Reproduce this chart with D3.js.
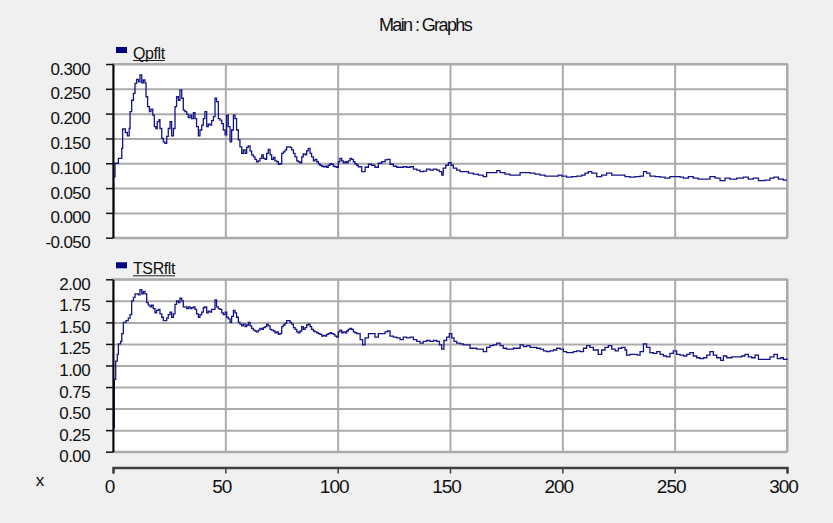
<!DOCTYPE html>
<html>
<head>
<meta charset="utf-8">
<script src="https://cdn.jsdelivr.net/npm/d3@7"></script>
<style>
  html, body { margin: 0; padding: 0; background: #f0f0f0; }
  svg { display: block; font-family: "Liberation Sans", Arial, sans-serif; }
</style>
</head>
<body>
<svg id="chart" width="833" height="523"></svg>
<script>
// values (time, value)
const qpfltTime = [0,0.3,0.9,2.4,3.9,4.3,5.5,6.4,7.2,7.6,8.3,9.1,9.8,10.5,11.3,12.0,12.8,13.5,14.2,14.7,
  15.4,16.2,16.9,17.7,18.4,19.1,19.7,20.5,20.9,21.7,22.4,23.1,23.9,24.6,25.4,26.1,26.9,27.6,28.3,29.1,
  29.8,30.6,31.3,32.0,32.8,33.5,34.3,35.0,35.8,36.5,37.2,38.0,38.7,39.5,40.2,40.9,41.7,42.4,43.2,43.9,
  44.7,45.4,46.1,46.9,47.6,48.4,49.1,49.9,50.6,51.3,52.1,52.8,53.6,54.3,55.0,55.8,56.5,57.3,58.0,58.8,
  59.5,60.2,61.0,61.7,62.5,63.2,63.9,64.7,65.4,66.2,66.9,67.7,68.4,69.1,69.9,70.6,71.4,72.1,72.9,73.6,
  74.3,75.1,75.8,76.6,77.3,78.0,78.8,79.5,80.3,81.0,81.8,82.5,83.2,84.0,84.7,85.5,86.2,86.9,87.7,88.4,
  89.2,89.9,90.7,91.4,92.1,92.9,93.6,94.4,95.1,95.8,96.6,97.3,98.1,98.8,99.6,100.3,101.0,101.8,102.5,103.3,
  104.0,104.7,105.5,106.2,107.0,107.7,108.5,109.2,
  110.7,112.2,113.7,115.1,116.6,118.1,119.6,121.1,122.1,123.3,124.8,126.3,127.8,129.2,130.7,132.2,133.7,135.2,136.7,138.1,
  139.6,141.1,142.6,144.1,145.3,146.3,147.0,148.1,149.3,150.5,151.5,153.0,154.5,156.7,158.2,160.4,162.6,164.8,166.3,168.6,
  170.8,172.3,174.5,176.7,179.0,181.2,183.4,185.6,187.8,190.1,192.3,194.5,196.7,198.2,199.7,201.9,204.2,206.4,208.6,210.1,
  211.6,213.1,215.3,217.5,219.7,222.0,224.2,226.4,227.9,230.1,232.4,234.6,236.1,237.5,239.0,241.3,243.5,245.7,247.9,250.2,
  252.4,253.9,256.1,258.3,260.5,262.8,265.7,268.0,270.2,272.4,274.6,277.6,280.6,282.8,285.0,287.3,290.2,292.4,294.2,296.2,
  298.4,300];
const qpfltValue = [0.0,0.073,0.100,0.110,0.130,0.169,0.162,0.155,0.170,0.204,0.227,0.241,0.261,0.269,0.264,0.278,0.262,0.268,0.262,0.234,
  0.214,0.204,0.209,0.197,0.174,0.170,0.184,0.188,0.170,0.150,0.143,0.140,0.154,0.170,0.184,0.155,0.170,0.214,0.234,0.227,
  0.248,0.231,0.207,0.204,0.199,0.192,0.197,0.190,0.202,0.190,0.174,0.155,0.167,0.177,0.190,0.204,0.174,0.179,0.177,0.186,
  0.194,0.231,0.224,0.190,0.187,0.180,0.167,0.157,0.197,0.174,0.143,0.167,0.197,0.190,0.167,0.147,0.133,0.120,0.127,0.120,
  0.132,0.135,0.125,0.117,0.113,0.108,0.103,0.105,0.110,0.117,0.110,0.108,0.120,0.128,0.117,0.108,0.112,0.105,0.103,0.098,
  0.099,0.120,0.123,0.127,0.133,0.133,0.132,0.127,0.120,0.113,0.105,0.103,0.101,0.113,0.119,0.117,0.125,0.130,0.120,0.113,
  0.105,0.108,0.103,0.099,0.096,0.094,0.093,0.094,0.092,0.096,0.099,0.098,0.094,0.093,0.092,0.103,0.110,0.105,0.101,0.103,
  0.101,0.105,0.110,0.108,0.103,0.099,0.096,0.093,
  0.083,0.092,0.098,0.096,0.092,0.100,0.103,0.107,0.108,0.098,0.094,0.092,0.092,0.093,0.092,0.093,0.088,0.086,0.083,0.084,
  0.088,0.086,0.088,0.086,0.083,0.076,0.090,0.096,0.101,0.096,0.090,0.086,0.083,0.083,0.080,0.078,0.076,0.073,0.081,0.081,
  0.085,0.081,0.078,0.076,0.076,0.081,0.081,0.080,0.078,0.076,0.074,0.074,0.074,0.076,0.074,0.072,0.073,0.074,0.076,0.080,
  0.083,0.080,0.073,0.076,0.080,0.076,0.076,0.076,0.073,0.072,0.073,0.074,0.083,0.080,0.074,0.073,0.072,0.070,0.073,0.073,
  0.072,0.070,0.073,0.070,0.068,0.068,0.073,0.070,0.065,0.070,0.068,0.070,0.072,0.068,0.070,0.065,0.066,0.070,0.072,0.068,
  0.066,0.066];

const tsrfltTime = [0,0.6,1.2,1.9,2.4,3.4,3.9,4.6,5.8,6.8,7.6,8.3,9.1,9.8,10.5,11.3,12.0,12.8,13.5,14.2,
  15.0,15.7,16.5,17.2,17.9,18.7,19.4,20.2,20.9,21.7,22.4,23.1,23.9,24.6,25.4,26.1,26.9,27.6,28.3,29.1,
  29.8,30.6,31.3,32.0,32.8,33.5,34.3,35.0,35.8,36.5,37.2,38.0,38.7,39.5,40.2,40.9,41.7,42.4,43.2,43.9,
  44.7,45.4,46.1,46.9,47.6,48.4,49.1,49.9,50.6,51.3,52.1,52.8,53.6,54.3,55.0,55.8,56.5,57.3,58.0,58.8,
  59.5,60.3,61.0,61.7,62.5,63.2,63.9,64.7,65.4,66.2,66.9,67.7,68.4,69.1,69.9,70.6,71.4,72.1,72.9,73.6,
  74.3,75.1,75.8,76.6,77.3,78.0,78.8,79.5,80.3,81.0,81.8,82.5,83.2,84.0,84.7,85.5,86.2,86.9,87.7,88.4,
  89.2,89.9,90.7,91.4,92.1,92.9,93.6,94.4,95.1,95.8,96.6,97.3,98.1,98.8,99.6,100.3,101.0,101.8,102.5,103.3,
  104.0,104.7,105.5,106.2,107.0,107.7,108.5,
  110.0,111.1,112.2,113.7,115.1,116.6,118.1,119.6,121.1,122.1,123.3,124.8,126.3,127.8,129.2,130.7,132.2,133.7,135.2,136.7,
  138.1,139.6,141.1,142.6,144.1,145.3,146.3,147.3,148.5,149.7,150.8,151.8,153.0,154.5,155.9,157.4,158.9,160.4,161.9,163.4,
  164.8,166.3,167.8,169.3,170.8,172.3,173.7,175.2,176.7,178.2,179.7,181.2,182.7,184.1,185.6,187.1,188.6,190.1,191.6,193.0,
  194.5,196.0,197.5,199.0,200.5,201.9,203.4,204.9,206.4,207.9,209.4,210.8,212.3,213.8,216.0,217.5,219.0,220.5,222.0,223.5,
  224.9,226.4,227.9,228.6,230.1,231.6,233.4,234.6,236.1,237.5,239.0,240.5,242.0,243.5,245.0,246.5,247.9,249.4,250.9,252.4,
  253.9,255.4,256.8,258.3,259.8,261.3,262.8,264.3,265.7,267.2,268.7,270.5,271.7,273.2,275.4,277.6,279.8,281.3,282.8,284.3,
  285.8,287.3,289.5,291.0,292.4,294.2,295.7,297.2,298.4,300];
const tsrfltValue = [0.28,0.84,1.05,1.13,1.25,1.28,1.37,1.50,1.52,1.55,1.59,1.75,1.79,1.83,1.83,1.82,1.88,1.83,1.86,1.83,
  1.73,1.70,1.68,1.70,1.66,1.61,1.64,1.65,1.60,1.56,1.52,1.52,1.55,1.59,1.62,1.56,1.60,1.71,1.75,1.73,
  1.78,1.75,1.68,1.68,1.66,1.68,1.66,1.67,1.68,1.65,1.60,1.56,1.59,1.62,1.67,1.68,1.61,1.63,1.62,1.65,
  1.65,1.76,1.68,1.66,1.65,1.61,1.59,1.62,1.56,1.54,1.50,1.57,1.64,1.61,1.56,1.50,1.48,1.46,1.48,1.45,
  1.47,1.50,1.46,1.43,1.41,1.40,1.39,1.41,1.43,1.42,1.44,1.45,1.48,1.46,1.42,1.41,1.40,1.38,1.39,1.36,
  1.37,1.45,1.47,1.49,1.52,1.52,1.50,1.48,1.44,1.42,1.39,1.38,1.40,1.45,1.42,1.44,1.47,1.48,1.45,1.42,
  1.40,1.39,1.38,1.37,1.36,1.34,1.35,1.34,1.36,1.37,1.38,1.37,1.36,1.34,1.33,1.39,1.41,1.38,1.39,1.38,
  1.40,1.42,1.43,1.42,1.39,1.38,1.37,
  1.30,1.24,1.32,1.37,1.37,1.33,1.37,1.37,1.39,1.40,1.34,1.33,1.32,1.30,1.33,1.32,1.33,1.30,1.28,1.26,
  1.28,1.29,1.28,1.29,1.28,1.24,1.19,1.29,1.33,1.37,1.32,1.28,1.26,1.25,1.24,1.24,1.20,1.20,1.19,1.19,
  1.16,1.21,1.23,1.24,1.26,1.23,1.20,1.19,1.19,1.20,1.20,1.24,1.22,1.23,1.21,1.21,1.20,1.19,1.17,1.16,
  1.17,1.18,1.20,1.19,1.16,1.15,1.15,1.16,1.17,1.16,1.20,1.23,1.21,1.18,1.13,1.18,1.21,1.23,1.19,1.17,
  1.20,1.21,1.18,1.12,1.13,1.13,1.12,1.16,1.25,1.21,1.15,1.14,1.16,1.13,1.11,1.10,1.14,1.17,1.13,1.12,
  1.11,1.13,1.15,1.11,1.09,1.08,1.09,1.12,1.16,1.12,1.09,1.06,1.11,1.09,1.10,1.10,1.11,1.13,1.10,1.09,
  1.12,1.07,1.07,1.07,1.10,1.13,1.08,1.09,1.07,1.08];

const xTicks = [0, 50, 100, 150, 200, 250, 300];
const qpfltTicks = [-0.05, 0, 0.05, 0.1, 0.15, 0.2, 0.25, 0.3];
const tsrfltTicks = [0, 0.25, 0.5, 0.75, 1, 1.25, 1.5, 1.75, 2];

const plotLeft = 113, plotRight = 787;
const lineColor = "#14148a";
const gridColor = "#ababab";

const svg = d3.select("#chart");

const x = d3.scaleLinear().domain([0, 300]).range([plotLeft, plotRight]);

svg.append("text")
    .attr("x", 425).attr("y", 31)
    .attr("text-anchor", "middle")
    .style("font-size", "18px").style("letter-spacing", "-1.6px")
    .attr("fill", "#111")
    .text("Main : Graphs");

function drawPanel(name, times, values, ticks, top, bottom, fmt) {
    const y = d3.scaleLinear().domain([ticks[0], ticks[ticks.length - 1]]).range([bottom, top]);
    const g = svg.append("g");
    const h = bottom - top;

    g.append("rect")
        .attr("x", plotLeft).attr("y", top)
        .attr("width", plotRight - plotLeft).attr("height", h)
        .attr("fill", "#fff").attr("stroke", gridColor).attr("stroke-width", 2);

    // horizontal grid
    g.append("g")
        .attr("transform", "translate(" + plotLeft + ",0)")
        .call(d3.axisLeft(y).tickValues(ticks).tickSize(-(plotRight - plotLeft)).tickFormat(""))
        .call(s => s.select(".domain").remove())
        .call(s => s.selectAll("line").attr("stroke", gridColor).attr("stroke-width", 2));

    // vertical grid
    g.append("g")
        .attr("transform", "translate(0," + bottom + ")")
        .call(d3.axisBottom(x).tickValues(xTicks.slice(1)).tickSize(-h).tickFormat(""))
        .call(s => s.select(".domain").remove())
        .call(s => s.selectAll("line").attr("stroke", gridColor).attr("stroke-width", 2));

    const line = d3.line()
        .x((d, i) => x(times[i]))
        .y(d => y(d))
        .curve(d3.curveStepAfter);

    g.append("path")
        .datum(values)
        .attr("d", line)
        .attr("fill", "none")
        .attr("stroke", lineColor)
        .attr("stroke-width", 1.3);

    // y axis
    const yAxis = g.append("g")
        .attr("transform", "translate(" + plotLeft + ",0)")
        .call(d3.axisLeft(y).tickValues(ticks).tickSize(7).tickSizeOuter(0).tickPadding(16)
            .tickFormat(d => d3.format(fmt)(d).replace("\u2212", "-")));
    yAxis.select(".domain").attr("stroke", "#000").attr("stroke-width", 2);
    yAxis.selectAll(".tick line").attr("stroke", "#111").attr("stroke-width", 1.5);
    yAxis.selectAll("text")
        .attr("dy", "10px")
        .attr("fill", "#111")
        .style("font-size", "17px").style("letter-spacing", "-0.6px")
        .style("font-family", "Liberation Sans, Arial, sans-serif");

    // legend
    g.append("rect")
        .attr("x", 116).attr("y", top - 17)
        .attr("width", 11).attr("height", 6)
        .attr("fill", "#000080");
    const label = g.append("text")
        .attr("x", 133).attr("y", top - 5.5)
        .style("font-size", "16px").style("letter-spacing", "-0.4px")
        .attr("fill", "#111")
        .text(name);
    const w = label.node().getComputedTextLength();
    g.append("line")
        .attr("x1", 133).attr("x2", 133 + w)
        .attr("y1", top - 3.5).attr("y2", top - 3.5)
        .attr("stroke", "#222").attr("stroke-width", 1);
}

drawPanel("Qpflt", qpfltTime, qpfltValue, qpfltTicks, 64, 237.7, ".3f");
drawPanel("TSRflt", tsrfltTime, tsrfltValue, tsrfltTicks, 279.3, 451.7, ".2f");

// time axis
const xAxis = svg.append("g")
    .attr("transform", "translate(0,467.5)")
    .call(d3.axisBottom(x).tickValues(xTicks).tickSize(6));
xAxis.select(".domain").attr("stroke", "#404040").attr("stroke-width", 2.5);
xAxis.selectAll(".tick line").attr("stroke", "#404040").attr("stroke-width", 1.5);
xAxis.selectAll("text")
    .attr("y", 25.5).attr("dy", 0).attr("dx", -4)
    .attr("fill", "#111")
    .style("font-size", "19px").style("letter-spacing", "-1px")
    .style("font-family", "Liberation Sans, Arial, sans-serif");

svg.append("text")
    .attr("x", 40).attr("y", 486)
    .attr("text-anchor", "middle")
    .style("font-size", "17px")
    .attr("fill", "#111")
    .text("x");
</script>
</body>
</html>
